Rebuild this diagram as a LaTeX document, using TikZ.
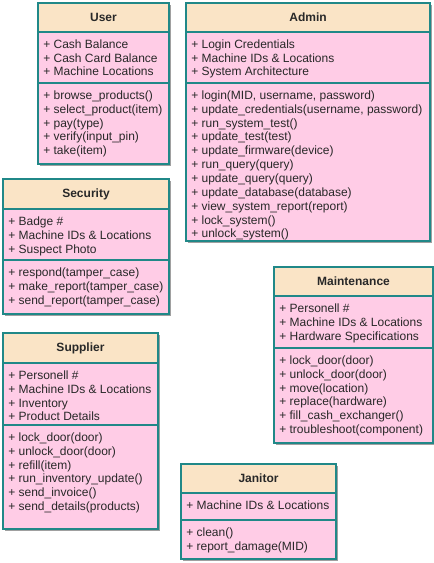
\documentclass[tikz,border=0pt]{standalone}
\usepackage{fontspec}
\setmainfont{Liberation Sans}
\definecolor{bordc}{RGB}{32,136,136}
\definecolor{headc}{RGB}{250,228,198}
\definecolor{bodyc}{RGB}{255,204,230}
\definecolor{txtc}{RGB}{40,40,40}
\definecolor{shadc}{RGB}{160,160,160}
\newcommand\sect[7]{%
  \pgfmathsetlengthmacro\sw{(#4-#2)*0.75pt}%
  \pgfmathsetlengthmacro\sh{(#5-#3)*0.75pt}%
  \node[#6, minimum width=\sw, minimum height=\sh, anchor=north west] (#1) at (#2,#3) {};
  \node[txt, anchor=north west] (#1t) at ([xshift=4.5pt, yshift=-5.25pt]#1.north west) {\rule{0pt}{7.5pt}#7};}
\newcommand\headsect[7]{%
  \pgfmathsetlengthmacro\sw{(#4-#2)*0.75pt}%
  \pgfmathsetlengthmacro\sh{(#5-#3)*0.75pt}%
  \node[#6, minimum width=\sw, minimum height=\sh, anchor=north west] (#1) at (#2,#3) {#7};}
\newcommand\shad[4]{\fill[shadc] (#1+3,#2+3) rectangle (#3+3,#4+3);}
\tikzset{
  base/.style={draw=bordc, line width=1.5pt, inner sep=0pt, text=txtc},
  head/.style={base, fill=headc, font=\fontsize{9pt}{10.5pt}\selectfont\bfseries},
  body/.style={base, fill=bodyc},
  txt/.style={inner sep=0pt, align=left, text=txtc, font=\fontsize{9pt}{10.4pt}\selectfont}
}
\begin{document}
\begin{tikzpicture}[x=0.75pt, y=-0.75pt]
\useasboundingbox (0,0) rectangle (434,563);
% User
\shad{37}{2}{168}{163}
\headsect{userh}{37}{2}{168}{31}{head}{User}
\sect{usera}{37}{31}{168}{82}{body}{+ Cash Balance\\+ Cash Card Balance\\+ Machine Locations}
\sect{userm}{37}{82}{168}{163}{body}{+ browse\_products()\\+ select\_product(item)\\+ pay(type)\\+ verify(input\_pin)\\+ take(item)}
% Admin
\shad{185}{2}{429}{240}
\headsect{adminh}{185}{2}{429}{31}{head}{Admin}
\sect{admina}{185}{31}{429}{82}{body}{+ Login Credentials\\+ Machine IDs \& Locations\\+ System Architecture}
\sect{adminm}{185}{82}{429}{240}{body}{+ login(MID, username, password)\\+ update\_credentials(username, password)\\+ run\_system\_test()\\+ update\_test(test)\\+ update\_firmware(device)\\+ run\_query(query)\\+ update\_query(query)\\+ update\_database(database)\\+ view\_system\_report(report)\\+ lock\_system()\\+ unlock\_system()}
% Security
\shad{2}{178}{168}{313}
\headsect{sech}{2}{178}{168}{208}{head}{Security}
\sect{seca}{2}{208}{168}{259}{body}{+ Badge \#\\+ Machine IDs \& Locations\\+ Suspect Photo}
\sect{secm}{2}{259}{168}{313}{body}{+ respond(tamper\_case)\\+ make\_report(tamper\_case)\\+ send\_report(tamper\_case)}
% Maintenance
\shad{273}{266}{432}{442}
\headsect{mainh}{273}{266}{432}{295}{head}{Maintenance}
\sect{maina}{273}{295}{432}{347}{body}{+ Personell \#\\+ Machine IDs \& Locations\\+ Hardware Specifications}
\sect{mainm}{273}{347}{432}{442}{body}{+ lock\_door(door)\\+ unlock\_door(door)\\+ move(location)\\+ replace(hardware)\\+ fill\_cash\_exchanger()\\+ troubleshoot(component)}
% Supplier
\shad{2}{332}{157}{528}
\headsect{suph}{2}{332}{157}{362}{head}{Supplier}
\sect{supa}{2}{362}{157}{424}{body}{+ Personell \#\\+ Machine IDs \& Locations\\+ Inventory\\+ Product Details}
\sect{supm}{2}{424}{157}{528}{body}{+ lock\_door(door)\\+ unlock\_door(door)\\+ refill(item)\\+ run\_inventory\_update()\\+ send\_invoice()\\+ send\_details(products)}
% Janitor
\shad{180}{463}{335}{558}
\headsect{janh}{180}{463}{335}{492}{head}{Janitor}
\sect{jana}{180}{492}{335}{519}{body}{+ Machine IDs \& Locations}
\sect{janm}{180}{519}{335}{558}{body}{+ clean()\\+ report\_damage(MID)}
\end{tikzpicture}
\end{document}
